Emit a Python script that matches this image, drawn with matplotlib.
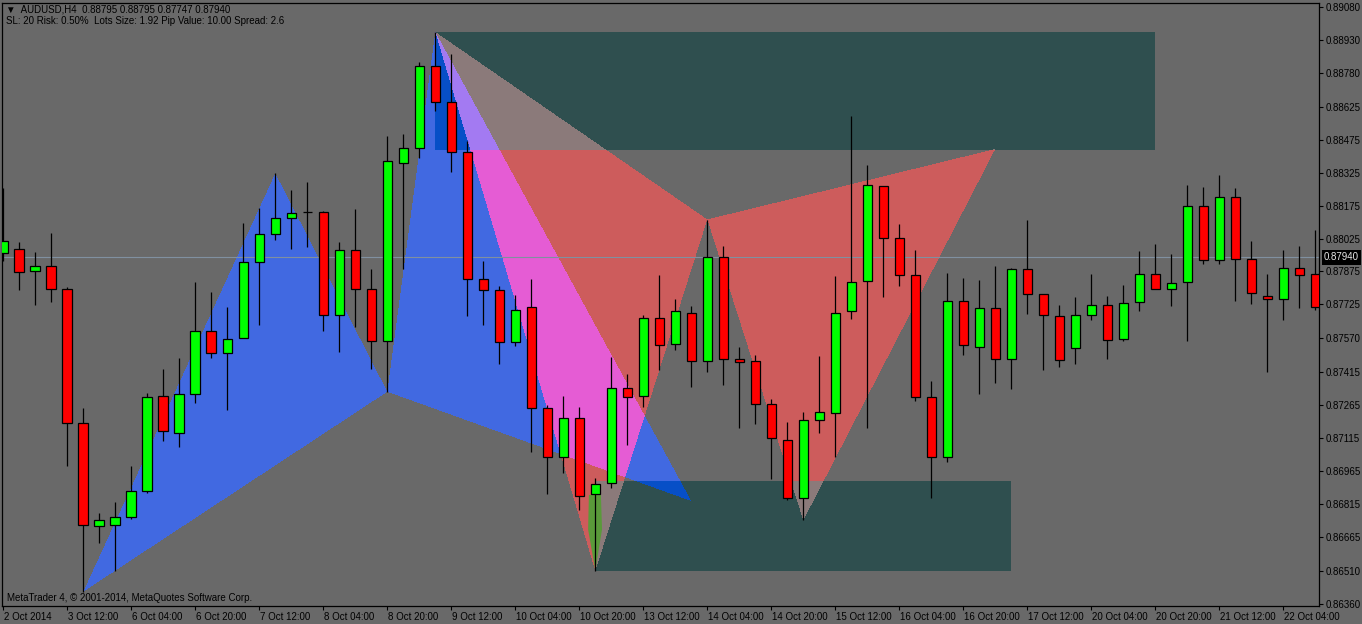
import numpy as np
import matplotlib
matplotlib.use('Agg')
import matplotlib.pyplot as plt
from matplotlib.path import Path
from matplotlib.patches import Polygon
import matplotlib.transforms as mtransforms

plt.rcParams['font.family'] = ['Liberation Sans', 'DejaVu Sans']

# ---------------- data (AUDUSD H4, bar index 0 = 2 Oct 20:00) ----------------
opens = [0.87958, 0.87976, 0.87876, 0.87899, 0.87794, 0.87183, 0.86715, 0.86719, 0.86755, 0.86874,
         0.87306, 0.87138, 0.87315, 0.87602, 0.87502, 0.87571, 0.87917, 0.88044, 0.88117, 0.88145,
         0.88145, 0.87675, 0.87972, 0.87794, 0.87557, 0.88368, 0.88436, 0.88810, 0.88646, 0.88419,
         0.87839, 0.87789, 0.87553, 0.87711, 0.87252, 0.87029, 0.87207, 0.86860, 0.86912, 0.87343,
         0.87306, 0.87662, 0.87543, 0.87688, 0.87465, 0.87939, 0.87475, 0.87465, 0.87270, 0.87105,
         0.86843, 0.87197, 0.87229, 0.87693, 0.87830, 0.88263, 0.88026, 0.87858, 0.87302, 0.87028,
         0.87739, 0.87532, 0.87707, 0.87475, 0.87885, 0.87771, 0.87671, 0.87525, 0.87675, 0.87721,
         0.87566, 0.87735, 0.87862, 0.87794, 0.87826, 0.88172, 0.87926, 0.88213, 0.87930, 0.87762,
         0.87748, 0.87890, 0.87862]
highs = [0.88254, 0.88009, 0.87964, 0.88050, 0.87804, 0.87253, 0.86773, 0.86825, 0.86989, 0.87320,
         0.87429, 0.87479, 0.87826, 0.87780, 0.87713, 0.88095, 0.88163, 0.88322, 0.88245, 0.88281,
         0.88151, 0.88009, 0.88158, 0.87886, 0.88492, 0.88500, 0.88828, 0.88966, 0.88865, 0.88471,
         0.87922, 0.87808, 0.87768, 0.87841, 0.87267, 0.87308, 0.87259, 0.86933, 0.87485, 0.87408,
         0.87677, 0.87859, 0.87750, 0.87717, 0.88108, 0.87991, 0.87531, 0.87493, 0.87295, 0.87189,
         0.87234, 0.87490, 0.87854, 0.88583, 0.88360, 0.88263, 0.88091, 0.87973, 0.87376, 0.87868,
         0.87845, 0.87836, 0.87900, 0.87890, 0.88110, 0.87771, 0.87722, 0.87759, 0.87864, 0.87763,
         0.87813, 0.87968, 0.88000, 0.87955, 0.88269, 0.88260, 0.88315, 0.88255, 0.88014, 0.87864,
         0.87973, 0.87991, 0.88065]
lows = [0.87924, 0.87791, 0.87724, 0.87737, 0.86990, 0.86416, 0.86639, 0.86512, 0.86746, 0.86864,
        0.87104, 0.87074, 0.87277, 0.87482, 0.87245, 0.87571, 0.87633, 0.88018, 0.87979, 0.87988,
        0.87605, 0.87510, 0.87623, 0.87432, 0.87327, 0.87888, 0.88393, 0.88608, 0.88329, 0.87674,
        0.87633, 0.87455, 0.87534, 0.87053, 0.86860, 0.86957, 0.86790, 0.86510, 0.86888, 0.87083,
        0.87259, 0.87424, 0.87515, 0.87348, 0.87418, 0.87360, 0.87161, 0.87181, 0.86928, 0.86836,
        0.86741, 0.87141, 0.87028, 0.87660, 0.87164, 0.87760, 0.87810, 0.87286, 0.86844, 0.87008,
        0.87494, 0.87318, 0.87367, 0.87341, 0.87681, 0.87428, 0.87441, 0.87455, 0.87655, 0.87478,
        0.87560, 0.87696, 0.87794, 0.87719, 0.87560, 0.87910, 0.87910, 0.87742, 0.87728, 0.87418,
        0.87655, 0.87710, 0.87700]
closes = [0.88014, 0.87871, 0.87899, 0.87794, 0.87183, 0.86719, 0.86741, 0.86755, 0.86874, 0.87302,
          0.87147, 0.87315, 0.87602, 0.87502, 0.87566, 0.87917, 0.88044, 0.88117, 0.88140, 0.88145,
          0.87675, 0.87972, 0.87794, 0.87557, 0.88377, 0.88436, 0.88810, 0.88646, 0.88419, 0.87839,
          0.87789, 0.87553, 0.87698, 0.87253, 0.87029, 0.87207, 0.86850, 0.86909, 0.87343, 0.87303,
          0.87662, 0.87538, 0.87693, 0.87465, 0.87939, 0.87475, 0.87462, 0.87270, 0.87117, 0.86843,
          0.87197, 0.87233, 0.87688, 0.87825, 0.88267, 0.88026, 0.87858, 0.87302, 0.87028, 0.87739,
          0.87539, 0.87707, 0.87475, 0.87885, 0.87771, 0.87675, 0.87470, 0.87675, 0.87721, 0.87561,
          0.87730, 0.87862, 0.87794, 0.87821, 0.88172, 0.87926, 0.88213, 0.87930, 0.87776, 0.87748,
          0.87890, 0.87858, 0.87715]

xtick_pos = list(range(0, 81, 4))
xtick_labels = ['2 Oct 2014', '3 Oct 12:00', '6 Oct 04:00', '6 Oct 20:00', '7 Oct 12:00',
                '8 Oct 04:00', '8 Oct 20:00', '9 Oct 12:00', '10 Oct 04:00', '10 Oct 20:00',
                '13 Oct 12:00', '14 Oct 04:00', '14 Oct 20:00', '15 Oct 12:00', '16 Oct 04:00',
                '16 Oct 20:00', '17 Oct 12:00', '20 Oct 04:00', '20 Oct 20:00', '21 Oct 12:00',
                '22 Oct 04:00']
ytick_values = [0.89080, 0.88930, 0.88780, 0.88625, 0.88475, 0.88325, 0.88175, 0.88025,
                0.87875, 0.87725, 0.87570, 0.87415, 0.87265, 0.87115, 0.86965, 0.86815,
                0.86665, 0.86510, 0.86360]
current_price = 0.87940

# pattern triangles (bar index, price)
blue_xab_x = [5, 17, 24];  blue_xab_y = [0.86416, 0.88322, 0.87327]
blue_bcd_x = [24, 27, 43]; blue_bcd_y = [0.87327, 0.88966, 0.86829]
red_xab_x = [27, 37, 44];  red_xab_y = [0.88966, 0.86510, 0.88112]
red_bcd_x = [44, 62, 50];  red_bcd_y = [0.88112, 0.88433, 0.86741]
# zones (bar range, price range)
zone_up_x = [27, 72];  zone_up_y = [0.88429, 0.88966]
zone_lo_x = [37, 63];  zone_lo_y = [0.86510, 0.86920]
# small green marker near bar 37
mark_x = [36.6, 37.35, 37.42, 37.0, 36.55]
mark_y = [0.86857, 0.86857, 0.86700, 0.86512, 0.86700]

# ---------------- figure ----------------
W_PX, H_PX = 1362, 624
BG = (105, 105, 105)
fig = plt.figure(figsize=(W_PX / 100, H_PX / 100), dpi=100, facecolor='#696969')
ax_l, ax_b, ax_w, ax_h = 2, 18, 1317, 603
ax = fig.add_axes([ax_l / W_PX, ax_b / H_PX, ax_w / W_PX, ax_h / H_PX])
ax.set_facecolor('#696969')

x0, x1 = -0.081, 82.23
y0, y1 = 0.86351, 0.89098

# raster of XOR-blended objects (like MT4 background objects)
xs = x0 + (np.arange(ax_w) + 0.5) * (x1 - x0) / ax_w
ys = y1 - (np.arange(ax_h) + 0.5) * (y1 - y0) / ax_h
XX, YY = np.meshgrid(xs, ys)
pts = np.column_stack([XX.ravel(), YY.ravel()])
img = np.empty((ax_h * ax_w, 3), dtype=np.uint8)
img[:] = BG
bgarr = np.array(BG, dtype=np.uint8)

def rect(xr, yr):
    return [(xr[0], yr[0]), (xr[1], yr[0]), (xr[1], yr[1]), (xr[0], yr[1])]

shapes = [
    (rect(zone_up_x, zone_up_y), (47, 79, 79)),
    (rect(zone_lo_x, zone_lo_y), (47, 79, 79)),
    (list(zip(blue_xab_x, blue_xab_y)), (65, 105, 225)),
    (list(zip(blue_bcd_x, blue_bcd_y)), (65, 105, 225)),
    (list(zip(red_xab_x, red_xab_y)), (205, 92, 92)),
    (list(zip(red_bcd_x, red_bcd_y)), (205, 92, 92)),
]
for verts, col in shapes:
    m = Path(verts + [verts[0]], closed=True).contains_points(pts)
    img[m] ^= (np.array(col, dtype=np.uint8) ^ bgarr)

ax.imshow(img.reshape(ax_h, ax_w, 3), extent=(x0, x1, y0, y1), aspect='auto',
          origin='upper', interpolation='nearest', zorder=0)
ax.add_patch(Polygon(list(zip(mark_x, mark_y)), closed=True, facecolor='#5A9A3A',
                     edgecolor='none', zorder=0.5))

# current price line
ax.axhline(current_price, color='#8090A0', lw=0.8, zorder=1)

# candles
idx = np.arange(len(opens))
o = np.array(opens); c = np.array(closes); h = np.array(highs); l = np.array(lows)
ax.vlines(idx, l, h, colors='black', lw=0.9, zorder=2)
cols = np.where(c >= o, '#00FF00', '#FF0000')
bottoms = np.minimum(o, c)
heights = np.maximum(np.abs(c - o), 0.000005)
ax.bar(idx, heights, bottom=bottoms, width=0.6, color=cols, edgecolor='black',
       linewidth=0.9, zorder=3)

ax.set_xlim(x0, x1)
ax.set_ylim(y0, y1)

# axes styling
for s in ax.spines.values():
    s.set_color('black'); s.set_linewidth(0.9)
ax.yaxis.tick_right()
ax.set_yticks(ytick_values)
ax.set_yticklabels([f'{v:.5f}' for v in ytick_values])
ax.tick_params(axis='y', direction='out', length=3, width=0.8, colors='black',
               labelsize=7, pad=2)
ax.set_xticks(xtick_pos)
ax.set_xticklabels(xtick_labels, ha='left')
ax.tick_params(axis='x', direction='out', length=3, width=0.8, colors='black',
               labelsize=7, pad=1.5)
for lab in ax.get_xticklabels():
    lab.set_transform(lab.get_transform() + mtransforms.ScaledTranslation(1 / 100, 0, fig.dpi_scale_trans))

# current price tag
tr = mtransforms.blended_transform_factory(fig.transFigure, ax.transData)
ax.text(1324 / W_PX, current_price, f'{current_price:.5f}', transform=tr, ha='left',
        va='center', fontsize=7, color='#E8E8E8', zorder=5, clip_on=False,
        bbox=dict(facecolor='black', edgecolor='none', boxstyle='square,pad=0.25'))

# texts
fig.text(6 / W_PX, 1 - 9 / H_PX, '\u25BC  AUDUSD,H4  0.88795 0.88795 0.87747 0.87940',
         fontsize=7, va='center', ha='left', color='black')
fig.text(6 / W_PX, 1 - 21 / H_PX,
         'SL: 20 Risk: 0.50%  Lots Size: 1.92 Pip Value: 10.00 Spread: 2.6',
         fontsize=7, va='center', ha='left', color='black')
fig.text(7 / W_PX, 1 - 598 / H_PX, 'MetaTrader 4, \u00A9 2001-2014, MetaQuotes Software Corp.',
         fontsize=7, va='center', ha='left', color='black')

fig.savefig('out.png', dpi=100, facecolor=fig.get_facecolor())
